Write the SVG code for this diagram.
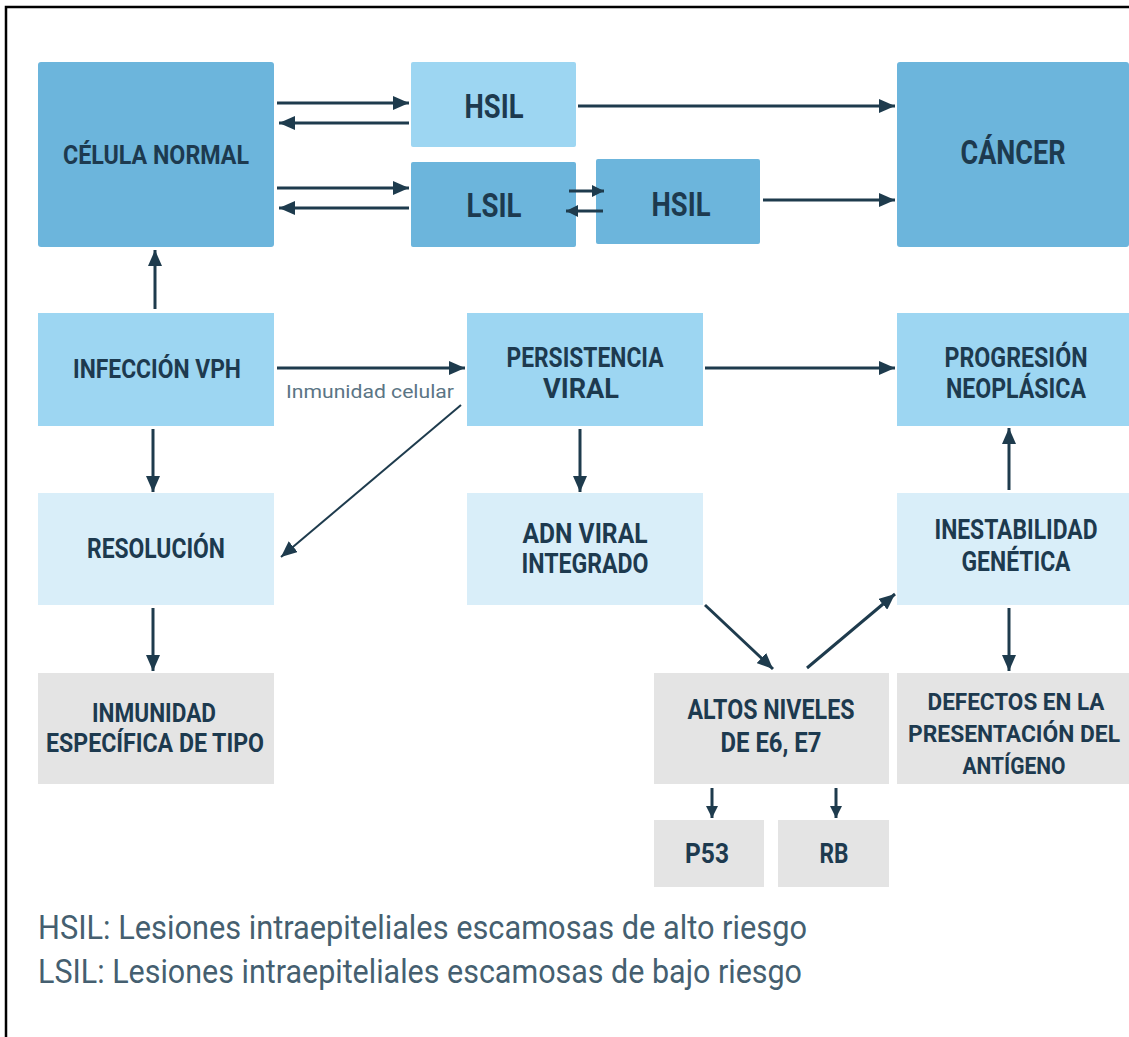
<svg xmlns="http://www.w3.org/2000/svg" width="1129" height="1037" viewBox="0 0 1129 1037">
<style>
.mid{fill:#6cb5dc}
.lt{fill:#9dd6f2}
.vlt{fill:#d9eef9}
.gr{fill:#e4e4e4}
.t{font-family:Roboto,"Liberation Sans",sans-serif;font-weight:bold;fill:#1d3a4f;text-anchor:middle}
.c{stroke:#1e3b4d;stroke-width:3;fill:none;marker-end:url(#ah)}
.cs{stroke:#1e3b4d;stroke-width:3;fill:none;marker-end:url(#ahs)}
.lg{font-family:Roboto,"Liberation Sans",sans-serif;font-size:34px;fill:#455f70}
</style>
<defs>
<marker id="ah" markerUnits="userSpaceOnUse" viewBox="0 0 16 14" refX="16" refY="7" markerWidth="16" markerHeight="14" orient="auto"><path d="M0,0 L16,7 L0,14 z" fill="#1e3b4d"/></marker>
<marker id="ahs" markerUnits="userSpaceOnUse" viewBox="0 0 12 12" refX="12" refY="6" markerWidth="12" markerHeight="12" orient="auto"><path d="M0,0 L12,6 L0,12 z" fill="#1e3b4d"/></marker>
</defs>
<rect width="1129" height="1037" fill="#ffffff"/>
<path d="M6,1037 V7 H1129" stroke="#000" stroke-width="2.5" fill="none"/>

<g id="celula"><rect class="mid" x="38" y="62" width="236" height="185" rx="3"/><text class="t" x="156" y="164" font-size="26" textLength="186" lengthAdjust="spacingAndGlyphs">CÉLULA NORMAL</text></g>
<g id="hsil1"><rect class="lt" x="411" y="62" width="165" height="85" rx="2"/><text class="t" x="494" y="118" font-size="34" textLength="59" lengthAdjust="spacingAndGlyphs">HSIL</text></g>
<g id="lsil"><rect class="mid" x="411" y="162" width="165" height="85" rx="2"/><text class="t" x="494" y="217" font-size="34" textLength="55" lengthAdjust="spacingAndGlyphs">LSIL</text></g>
<g id="hsil2"><rect class="mid" x="596" y="159" width="164" height="85" rx="2"/><text class="t" x="681" y="216" font-size="34" textLength="59" lengthAdjust="spacingAndGlyphs">HSIL</text></g>
<g id="cancer"><rect class="mid" x="897" y="62" width="232" height="185" rx="3"/><text class="t" x="1013" y="164" font-size="33" textLength="105" lengthAdjust="spacingAndGlyphs">CÁNCER</text></g>

<g id="infeccion"><rect class="lt" x="38" y="313" width="236" height="113"/><text class="t" x="157" y="378" font-size="25" textLength="168" lengthAdjust="spacingAndGlyphs">INFECCIÓN VPH</text></g>
<g id="persistencia"><rect class="lt" x="467" y="313" width="236" height="113"/><text class="t" x="585" y="367" font-size="27" textLength="157" lengthAdjust="spacingAndGlyphs">PERSISTENCIA</text><text class="t" x="581" y="398" font-size="27" textLength="76" lengthAdjust="spacingAndGlyphs">VIRAL</text></g>
<g id="progresion"><rect class="lt" x="897" y="313" width="232" height="113"/><text class="t" x="1016" y="367" font-size="27" textLength="143" lengthAdjust="spacingAndGlyphs">PROGRESIÓN</text><text class="t" x="1016" y="398" font-size="27" textLength="140" lengthAdjust="spacingAndGlyphs">NEOPLÁSICA</text></g>

<g id="resolucion"><rect class="vlt" x="38" y="493" width="236" height="112"/><text class="t" x="156" y="558" font-size="27" textLength="138" lengthAdjust="spacingAndGlyphs">RESOLUCIÓN</text></g>
<g id="adn"><rect class="vlt" x="467" y="493" width="236" height="112"/><text class="t" x="585" y="543" font-size="27" textLength="125" lengthAdjust="spacingAndGlyphs">ADN VIRAL</text><text class="t" x="585" y="573" font-size="27" textLength="127" lengthAdjust="spacingAndGlyphs">INTEGRADO</text></g>
<g id="inestabilidad"><rect class="vlt" x="897" y="493" width="232" height="112"/><text class="t" x="1016" y="539" font-size="27" textLength="163" lengthAdjust="spacingAndGlyphs">INESTABILIDAD</text><text class="t" x="1016" y="571" font-size="27" textLength="109" lengthAdjust="spacingAndGlyphs">GENÉTICA</text></g>

<g id="inmunidad"><rect class="gr" x="38" y="673" width="236" height="111"/><text class="t" x="154" y="722" font-size="26" textLength="124" lengthAdjust="spacingAndGlyphs">INMUNIDAD</text><text class="t" x="155" y="752" font-size="26" textLength="218" lengthAdjust="spacingAndGlyphs">ESPECÍFICA DE TIPO</text></g>
<g id="altos"><rect class="gr" x="654" y="673" width="235" height="111"/><text class="t" x="771" y="719" font-size="27" textLength="167" lengthAdjust="spacingAndGlyphs">ALTOS NIVELES</text><text class="t" x="771" y="752" font-size="27" textLength="101" lengthAdjust="spacingAndGlyphs">DE E6, E7</text></g>
<g id="defectos"><rect class="gr" x="897" y="673" width="232" height="111"/><text class="t" x="1016" y="710" font-size="24" textLength="177" lengthAdjust="spacingAndGlyphs">DEFECTOS EN LA</text><text class="t" x="1014" y="742" font-size="24" textLength="212" lengthAdjust="spacingAndGlyphs">PRESENTACIÓN DEL</text><text class="t" x="1014" y="774" font-size="24" textLength="103" lengthAdjust="spacingAndGlyphs">ANTÍGENO</text></g>
<g id="p53"><rect class="gr" x="654" y="820" width="110" height="67"/><text class="t" x="707" y="863" font-size="27" textLength="44" lengthAdjust="spacingAndGlyphs">P53</text></g>
<g id="rb"><rect class="gr" x="778" y="820" width="111" height="67"/><text class="t" x="834" y="863" font-size="27" textLength="29" lengthAdjust="spacingAndGlyphs">RB</text></g>

<g id="connectors">
<line class="c" x1="277" y1="103" x2="409" y2="103"/>
<line class="c" x1="409" y1="123" x2="279" y2="123"/>
<line class="c" x1="277" y1="188" x2="409" y2="188"/>
<line class="c" x1="409" y1="208" x2="279" y2="208"/>
<line class="cs" x1="569" y1="191" x2="604" y2="191"/>
<line class="cs" x1="603" y1="211" x2="566" y2="211"/>
<line class="c" x1="578" y1="106" x2="895" y2="106"/>
<line class="c" x1="763" y1="200" x2="895" y2="200"/>
<line class="c" x1="155" y1="309" x2="155" y2="250"/>
<line class="c" x1="277" y1="368" x2="465" y2="368"/>
<line class="c" x1="461" y1="405" x2="281" y2="557" style="stroke-width:2"/>
<line class="c" x1="153" y1="429" x2="153" y2="492"/>
<line class="c" x1="580" y1="429" x2="580" y2="492"/>
<line class="c" x1="705" y1="368" x2="895" y2="368"/>
<line class="c" x1="1009" y1="490" x2="1009" y2="428"/>
<line class="c" x1="153" y1="608" x2="153" y2="671"/>
<line class="c" x1="705" y1="605" x2="773" y2="669"/>
<line class="c" x1="807" y1="668" x2="895" y2="594"/>
<line class="c" x1="1009" y1="608" x2="1009" y2="671"/>
<line class="cs" x1="712" y1="788" x2="712" y2="818"/>
<line class="cs" x1="836" y1="788" x2="836" y2="818"/>
<text x="286" y="398" font-family="Roboto,'Liberation Sans',sans-serif" font-size="18" fill="#5b7585" textLength="168" lengthAdjust="spacingAndGlyphs">Inmunidad celular</text>
</g>

<text class="lg" x="38" y="939" textLength="769" lengthAdjust="spacingAndGlyphs">HSIL: Lesiones intraepiteliales escamosas de alto riesgo</text>
<text class="lg" x="38" y="983" textLength="764" lengthAdjust="spacingAndGlyphs">LSIL: Lesiones intraepiteliales escamosas de bajo riesgo</text>
</svg>
